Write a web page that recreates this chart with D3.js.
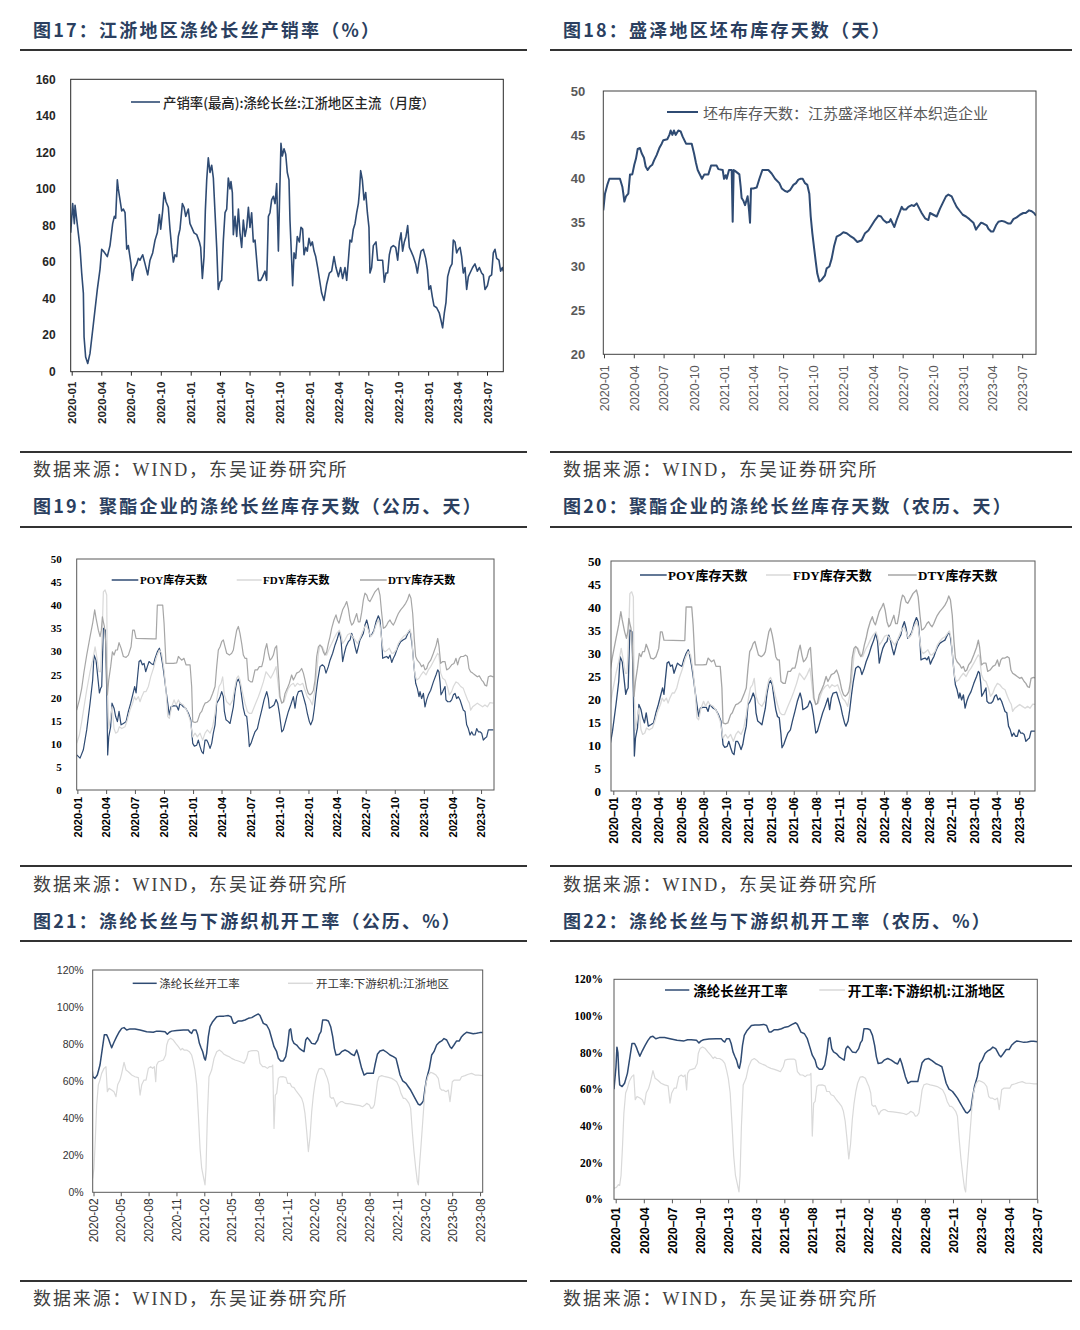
<!DOCTYPE html>
<html>
<head>
<meta charset="utf-8">
<script src="https://cdn.jsdelivr.net/npm/d3@7"></script>
<style>
  body { margin: 0; background: #fff; }
  svg { display: block; }
</style>
</head>
<body>
<svg id="page" width="1080" height="1330"></svg>
<script>
// ---- data: [months since 2020-01-01, value] ----

// 图17 产销率(最高):涤纶长丝:江浙地区主流
var SALES_RATIO = [[-0.1,76],[0.1,92],[0.27,81],[0.34,91],[0.84,68],[1.01,54],[1.18,43],[1.25,19],[1.41,8],[1.62,4.5],[1.85,10],[2.19,26],[2.59,45],[2.86,56],[3.03,67],[3.2,66],[3.6,63],[3.87,69],[4.14,81],[4.31,85],[4.44,84],[4.61,105],[4.71,100],[4.88,94],[5.05,88],[5.22,89],[5.39,87],[5.56,67],[5.72,69],[5.99,59],[6.13,50],[6.3,56],[6.57,59],[6.73,62],[6.9,61],[7.17,64],[7.41,59],[7.68,53],[7.91,61],[8.18,65],[8.42,72],[8.65,76],[8.86,86],[8.99,78],[9.19,88],[9.33,98],[9.53,93],[9.76,90],[9.93,78],[10.1,68],[10.27,60],[10.44,64],[10.61,63],[10.77,74],[10.94,78],[11.18,92],[11.35,90],[11.52,85],[11.78,89],[11.95,81],[12.12,79],[12.36,76],[12.63,75],[12.9,71],[13.03,68],[13.2,51],[13.37,63],[13.5,88],[13.64,105],[13.8,117],[13.97,109],[14.14,113],[14.31,106],[14.48,87],[14.65,68],[14.81,45],[14.98,49],[15.15,50],[15.32,72],[15.49,87],[15.66,89],[15.82,106],[15.99,100],[16.09,104],[16.23,98],[16.33,75],[16.5,85],[16.67,74],[16.84,89],[17,76],[17.17,68],[17.34,83],[17.51,74],[17.68,79],[17.85,90],[18.01,79],[18.18,87],[18.35,71],[18.52,72],[18.69,61],[18.86,50],[19.09,50],[19.29,52],[19.53,55],[19.7,50],[19.87,85],[20.03,87],[20.2,94],[20.37,96],[20.54,92],[20.71,103],[20.88,66],[20.98,90],[21.14,125],[21.28,118],[21.45,122],[21.62,119],[21.78,109],[21.95,105],[22.05,83],[22.22,61],[22.32,47],[22.46,65],[22.63,62],[22.79,74],[23,71],[23.16,79],[23.33,78],[23.47,64],[23.64,68],[23.8,66],[23.97,73],[24.14,69],[24.31,71],[24.48,66],[24.65,63],[24.85,57],[25.02,51],[25.25,43],[25.49,39],[25.76,48],[26.03,54],[26.26,55],[26.5,63],[26.7,57],[26.94,52],[27.17,57],[27.37,51],[27.61,57],[27.78,50],[27.95,61],[28.11,72],[28.28,71],[28.45,78],[28.62,81],[28.79,87],[28.96,92],[29.06,98],[29.19,110],[29.36,105],[29.53,94],[29.7,98],[29.87,87],[30.03,79],[30.13,54],[30.3,57],[30.47,69],[30.74,71],[30.91,61],[31.14,61],[31.41,61],[31.58,49],[31.75,54],[31.92,54],[32.09,64],[32.26,68],[32.49,69],[32.73,68],[32.93,61],[33.1,71],[33.27,76],[33.43,66],[33.6,71],[33.77,74],[33.94,80],[34.11,68],[34.28,66],[34.51,63],[34.75,59],[34.92,54],[35.08,60],[35.29,66],[35.52,67],[35.76,62],[35.93,56],[36.09,45],[36.26,47],[36.43,41],[36.6,36],[36.87,35],[37.14,32],[37.31,28],[37.47,24],[37.64,32],[37.81,38],[37.98,52],[38.22,57],[38.42,59],[38.55,72],[38.72,71],[38.89,65],[39.06,67],[39.23,68],[39.39,63],[39.56,54],[39.73,57],[39.9,45],[40.07,52],[40.24,54],[40.5,57],[40.74,59],[40.98,55],[41.18,57],[41.41,54],[41.58,53],[41.75,45],[41.99,47],[42.19,52],[42.42,53],[42.59,65],[42.76,67],[42.93,62],[43.16,61],[43.33,55],[43.5,57],[43.6,55]];

// 图18 坯布库存天数：江苏盛泽地区样本织造企业
var GREY_CLOTH_DAYS = [[-0.07,36.4],[0.1,38.3],[0.33,39.3],[0.54,40],[1.6,40],[1.84,39.1],[1.94,38.3],[2.04,37.4],[2.21,38],[2.44,38.3],[2.61,40.5],[2.84,40.5],[3.04,41.6],[3.21,42.3],[3.38,43.4],[3.61,43.5],[3.78,42.9],[4.01,42.4],[4.18,41.4],[4.38,41],[4.62,41.4],[4.85,41.6],[5.02,42.1],[5.28,42.7],[5.55,43.5],[5.79,44],[5.95,44.4],[6.35,44.5],[6.56,45],[6.69,45.5],[6.86,45],[7.02,45.5],[7.19,45],[7.46,45.5],[7.69,45.4],[7.89,44.8],[8.06,44.4],[8.23,44],[8.8,44],[9.03,42.9],[9.23,41.8],[9.4,41],[9.57,40.6],[9.83,40],[10.07,40.5],[10.47,40.5],[10.74,41.5],[11.3,41.5],[11.47,41.1],[11.91,41],[12.04,40],[12.21,40.4],[12.31,40],[12.54,41],[12.81,41],[12.91,35.1],[13.01,41],[13.14,40.9],[13.58,40.5],[13.71,39.1],[13.81,37.8],[13.98,37.5],[14.15,37],[14.31,37.6],[14.41,38],[14.55,36.4],[14.65,35],[14.75,38.9],[14.98,38.9],[15.32,39],[15.59,40],[15.89,41],[16.49,41],[16.82,40.6],[17.16,40],[17.59,39.5],[17.83,38.9],[18.16,38.6],[18.39,38.5],[18.66,38.7],[19,39.3],[19.26,39.5],[19.5,39.9],[19.73,40],[19.93,40],[20.17,39.5],[20.4,39.3],[20.6,38.3],[20.74,35.7],[20.9,33.8],[21.1,31.9],[21.24,30.6],[21.4,29.2],[21.61,28.3],[21.84,28.5],[22.17,29],[22.34,29.8],[22.61,30],[22.84,30.9],[23.08,32.3],[23.34,33.4],[23.68,33.6],[24.01,33.9],[24.35,33.8],[24.68,33.5],[25.08,33.2],[25.42,32.8],[25.85,33],[26.19,33.8],[26.52,34.1],[26.86,34.7],[27.19,35.3],[27.53,35.8],[27.79,35.7],[28.03,35.3],[28.36,35],[28.63,35.1],[28.76,35.4],[28.96,34.9],[29.13,34.5],[29.36,35.3],[29.63,36.1],[29.87,36.8],[30.03,36.5],[30.3,36.5],[30.53,36.8],[30.87,37],[31.1,36.9],[31.37,37.2],[31.64,36.6],[31.87,36.1],[32.21,35.5],[32.54,35.3],[32.71,36.1],[33.04,35.9],[33.38,35.7],[33.71,36.6],[34.05,37.4],[34.31,38],[34.55,38.2],[34.88,38],[35.12,37.4],[35.38,36.8],[35.72,36.3],[35.99,35.9],[36.32,35.7],[36.66,35.4],[37.06,35],[37.32,34.2],[37.49,34.5],[37.83,35],[38.06,34.9],[38.39,34.7],[38.56,34.3],[38.83,34],[39.06,34],[39.33,34.7],[39.57,35.1],[39.9,35.2],[40.23,35.1],[40.57,34.9],[40.8,34.9],[41.07,35.4],[41.4,35.6],[41.74,35.9],[42.07,36.1],[42.31,36.1],[42.64,36.4],[42.91,36.3],[43.14,36.1],[43.34,35.8]];

// 图19/图20 POY / FDY / DTY 库存天数
var POY_DAYS = [[-0.07,7.6],[0.28,6.9],[0.62,8.7],[0.97,13],[1.32,18.8],[1.59,23.8],[1.73,29.2],[1.94,28.1],[2.08,25.3],[2.29,21],[2.42,22],[2.53,22.4],[2.7,35],[2.91,34.6],[3.05,21.6],[3.15,7.6],[3.26,11.5],[3.46,13.7],[3.6,18.8],[3.81,17.7],[3.98,15.9],[4.16,14.8],[4.33,17],[4.54,14.1],[4.78,14.4],[5.06,14.8],[5.3,17],[5.54,18.8],[5.75,20.6],[5.96,22.4],[6.1,21],[6.24,24.2],[6.41,27.8],[6.58,28.1],[6.75,27.1],[6.93,27.4],[7.1,25.6],[7.27,26.7],[7.45,27.8],[7.66,27.4],[7.9,27.1],[8.07,28.5],[8.31,29.9],[8.52,30.7],[8.66,29.6],[8.87,27.1],[9.04,24.5],[9.21,21.6],[9.39,18.8],[9.56,16.2],[9.73,18],[9.98,18.2],[10.32,18.2],[10.5,17.3],[10.67,18.8],[11.02,18],[11.26,17.7],[11.54,16.6],[11.78,15.2],[11.99,10.1],[12.16,9.5],[12.4,9.7],[12.57,10.8],[12.75,9.4],[12.92,8.3],[13.09,7.9],[13.27,10.8],[13.44,10.8],[13.61,10.1],[13.79,9],[13.96,10.1],[14.13,12.3],[14.31,14.1],[14.48,18.8],[14.69,19.5],[14.83,20.2],[15,21.3],[15.17,20.2],[15.28,17],[15.45,15.2],[15.69,14.8],[15.87,14.4],[16.04,16.2],[16.21,18],[16.38,21.3],[16.56,23.4],[16.73,24],[16.9,23.1],[17.08,20.2],[17.25,17.7],[17.42,16.2],[17.6,15.9],[17.77,12.3],[17.87,9.4],[18.05,10.1],[18.22,11.2],[18.46,12.6],[18.71,13.3],[18.91,15.2],[19.16,17.3],[19.4,19.5],[19.68,21.3],[19.85,19.8],[19.95,17.7],[20.2,18],[20.44,18.4],[20.65,19.6],[20.82,18.8],[21,16.6],[21.24,12.6],[21.41,13],[21.69,15.2],[21.93,17],[22.17,18.4],[22.45,20.2],[22.62,17.7],[22.79,20.2],[22.97,21.3],[23.31,21.5],[23.49,20.2],[23.73,18.4],[23.9,16.6],[24.11,14.8],[24.25,14.1],[24.46,15.2],[24.63,17.7],[24.8,20.9],[24.98,23.8],[25.22,26.7],[25.46,27.1],[25.67,26.7],[25.84,25.3],[26.08,26.7],[26.26,28.1],[26.53,29.6],[26.78,31.4],[27.02,32.8],[27.23,34.3],[27.4,32.5],[27.57,27.8],[27.75,29.6],[27.92,31],[28.16,32.1],[28.34,32.5],[28.51,33.9],[28.68,32.8],[28.86,31],[29.03,29.6],[29.2,31],[29.37,32.5],[29.55,33.2],[29.72,33.9],[29.89,35.7],[30.07,36.8],[30.24,35.4],[30.41,33.2],[30.59,33.6],[30.83,34.6],[31.04,36.4],[31.28,37.7],[31.45,36.8],[31.63,32.5],[31.73,28.5],[31.9,28.7],[32.15,28.9],[32.32,28.5],[32.49,29.2],[32.67,27.6],[32.84,28.5],[33.01,29.2],[33.19,30.3],[33.36,31.2],[33.6,32.1],[33.88,32.5],[34.12,32.8],[34.29,33.6],[34.5,34.5],[34.64,33.8],[34.81,31],[34.99,26.7],[35.16,23.1],[35.33,22],[35.51,20.2],[35.61,21.3],[35.78,19.8],[35.96,20.9],[36.13,18],[36.3,19.5],[36.48,20.6],[36.72,21.6],[37,23.4],[37.27,24.9],[37.45,26],[37.58,25.6],[37.69,23.4],[37.79,20.6],[37.97,21.3],[38.21,22.4],[38.31,19.5],[38.49,19.1],[38.73,19.1],[38.9,19.5],[39.08,20.6],[39.25,20.9],[39.42,19.8],[39.59,20.2],[39.77,19.5],[39.94,18.4],[40.11,17.3],[40.29,17],[40.46,14.1],[40.63,13.3],[40.81,11.9],[40.98,12.6],[41.15,11.9],[41.33,11.9],[41.5,13.3],[41.67,12.6],[41.84,12.6],[42.02,12.3],[42.19,10.8],[42.36,11.2],[42.54,11.5],[42.71,13],[42.95,13],[43.23,13]];
var FDY_DAYS = [[-0.07,10.1],[0.21,11.9],[0.45,14.8],[0.69,18],[0.97,21.6],[1.32,25.6],[1.59,28.1],[1.84,31],[2.01,28.9],[2.25,25.6],[2.42,25.6],[2.6,35.4],[2.7,42.9],[2.88,43.3],[3.05,42.2],[3.12,22.4],[3.26,13.3],[3.46,15.9],[3.6,18],[3.81,13.3],[3.98,12.3],[4.19,12.6],[4.36,13.7],[4.61,13.3],[4.95,13.7],[5.2,15.2],[5.47,17.3],[5.75,18.8],[5.92,20.2],[6.1,19.5],[6.34,20.2],[6.51,19.1],[6.69,20.2],[6.93,21.3],[7.14,21.3],[7.38,22.4],[7.62,24.5],[7.9,26.3],[8.24,28.9],[8.52,30.3],[8.76,29.6],[9.01,26],[9.21,21.6],[9.39,15.9],[9.56,15.5],[9.8,18],[10.05,19.5],[10.25,18.4],[10.5,19.5],[10.67,18.8],[11.02,18.4],[11.36,17.3],[11.71,15.2],[11.99,11.5],[12.23,12.3],[12.47,11.5],[12.75,12.3],[13.02,10.8],[13.27,12.3],[13.51,13],[13.79,12.3],[14.06,13.7],[14.31,16.6],[14.48,19.5],[14.72,22.4],[14.93,23.1],[15.1,24.5],[15.28,20.6],[15.52,19.1],[15.87,18.4],[16.14,19.5],[16.38,22.4],[16.56,24.2],[16.73,24.7],[16.9,23.8],[17.18,20.9],[17.42,18.8],[17.67,17],[17.87,16.6],[18.12,16.6],[18.46,18.4],[18.81,20.2],[19.05,21.6],[19.33,23.4],[19.61,25.6],[19.85,24.9],[20.09,24.2],[20.37,25.3],[20.65,26.7],[20.78,24.5],[21,20.2],[21.24,18.8],[21.48,19.1],[21.69,20.6],[21.93,22],[22.17,22.7],[22.45,23.1],[22.62,22.4],[22.86,23.1],[23.14,22.7],[23.42,23.1],[23.66,21.6],[23.9,20.2],[24.18,19.5],[24.42,18.4],[24.63,20.9],[24.87,25.3],[25.05,29.6],[25.22,31.2],[25.46,31],[25.74,29.6],[25.91,29.2],[26.19,30.7],[26.43,31.7],[26.67,32.8],[26.95,33.9],[27.23,34.6],[27.4,33.6],[27.57,31.7],[27.82,32.5],[28.09,33.6],[28.34,33.9],[28.61,33.2],[28.86,32.5],[29.1,31.7],[29.37,32.8],[29.65,34.3],[29.89,35.4],[30.07,35.5],[30.24,34.6],[30.48,33.2],[30.76,33.9],[31.04,35.7],[31.28,36.8],[31.45,35.7],[31.63,32.5],[31.8,30.3],[31.97,29.9],[32.22,30.3],[32.42,30.7],[32.67,29.6],[32.84,29.6],[33.12,30.3],[33.36,31.7],[33.6,32.5],[33.88,33.2],[34.16,33.6],[34.4,34.3],[34.57,34.8],[34.74,33.2],[34.92,28.1],[35.09,24.9],[35.26,23.8],[35.51,24.2],[35.71,24.9],[35.96,25.6],[36.23,24.9],[36.48,26],[36.72,26.7],[37,27.8],[37.27,28.9],[37.45,29.6],[37.58,29.2],[37.76,25.3],[37.97,24.2],[38.21,23.8],[38.45,22.4],[38.66,20.6],[38.9,21.3],[39.08,22.4],[39.35,23.4],[39.59,23.1],[39.84,22.4],[40.11,22],[40.35,20.6],[40.56,19.5],[40.74,18.8],[40.87,17.3],[41.08,18],[41.33,18.4],[41.57,18.8],[41.84,18.4],[42.12,18],[42.36,18.4],[42.61,18],[42.88,18.9],[43.23,18.8]];
var DTY_DAYS = [[-0.07,17.3],[0.21,19.5],[0.45,22],[0.69,25.6],[0.97,29.2],[1.32,33.2],[1.59,36.1],[1.8,39],[1.94,37.2],[2.18,34.6],[2.36,33.2],[2.49,34.6],[2.6,37.5],[2.7,36.4],[2.81,35.4],[2.94,32.1],[3.12,20.6],[3.26,23.8],[3.46,26.7],[3.64,29.9],[3.81,29.2],[3.98,30.3],[4.16,30.3],[4.33,31.9],[4.54,30.7],[4.78,28.9],[5.06,28.7],[5.3,29.2],[5.58,31],[5.75,34.6],[5.92,34.6],[6.1,32.8],[7.9,32.7],[8.18,32.7],[8.31,40],[8.87,40],[9.01,36.1],[9.21,27.4],[9.98,27.4],[10.32,27.5],[10.5,28.9],[10.67,28.5],[10.84,28.1],[11.08,28.5],[11.29,27.1],[11.71,27.1],[11.88,22.4],[11.99,14.8],[12.23,14.6],[12.47,14.8],[12.75,16.6],[12.92,17],[13.09,18],[13.27,18.8],[13.51,19],[13.79,19.5],[14.06,20.9],[14.31,22.4],[14.48,26.7],[14.65,30.3],[14.83,31],[15,32.1],[15.17,32.5],[15.35,31],[15.52,29.6],[15.8,29.2],[16.04,29.6],[16.21,30.3],[16.38,32.5],[16.56,34.6],[16.73,35.4],[16.9,33.9],[17.08,31.7],[17.25,29.2],[17.42,28.5],[17.6,28.5],[17.77,23.8],[18.01,23.4],[18.19,23.4],[18.46,26],[18.71,26],[18.91,26.7],[19.16,26.7],[19.33,28.1],[19.5,30.3],[19.68,31.7],[19.85,29.6],[20.02,28.1],[20.2,28.5],[20.37,29.2],[20.54,30.7],[20.71,31.2],[20.89,25.3],[21.06,20.2],[21.24,18.8],[21.41,19.1],[21.58,20.9],[21.82,22],[22.03,23.1],[22.27,24.9],[22.45,23.8],[22.62,24.5],[22.79,25.3],[23.07,25.6],[23.31,26.3],[23.49,25.3],[23.66,23.8],[23.83,22],[24.01,20.9],[24.18,20.6],[24.35,20.9],[24.53,21.6],[24.7,23.8],[24.87,28.9],[25.05,31],[25.22,31.4],[25.39,31],[25.56,29.9],[25.74,29.2],[25.91,29.9],[26.08,31.7],[26.26,33.2],[26.43,35],[26.67,36.8],[26.88,37.9],[27.02,36.8],[27.19,36.1],[27.37,37.5],[27.57,39],[27.82,40],[27.99,40.8],[28.16,39.3],[28.34,36.8],[28.51,35.7],[28.68,36.1],[28.86,37.2],[29.03,38.2],[29.2,36.4],[29.37,36.4],[29.55,38.5],[29.72,41.1],[29.89,42.6],[30.07,42.2],[30.24,41.1],[30.41,40.8],[30.59,41.5],[30.76,42.2],[30.93,42.9],[31.11,43.3],[31.28,43.7],[31.45,42.2],[31.63,38.2],[31.8,35],[31.97,35.2],[32.15,35.7],[32.32,36.4],[32.49,36.8],[32.67,36.1],[32.84,35.7],[33.01,36.4],[33.19,37.4],[33.36,38.2],[33.6,39],[33.88,39.7],[34.12,40.4],[34.33,41.3],[34.5,42.4],[34.67,41.5],[34.85,38.2],[35.02,32.5],[35.16,28.9],[35.33,28.1],[35.61,27.4],[35.78,26.7],[35.96,27.1],[36.13,26],[36.3,26.3],[36.48,27.4],[36.72,28.1],[37,29.6],[37.27,31.2],[37.45,32.8],[37.58,31.2],[37.76,27.4],[37.97,27.8],[38.21,27.8],[38.38,26],[38.62,26.3],[38.9,27.1],[39.14,27.4],[39.35,28.5],[39.52,27.1],[39.7,28.5],[39.87,28.9],[40.11,28.9],[40.35,29.2],[40.53,28.9],[40.7,26.3],[40.87,25.6],[41.08,25.3],[41.33,24.9],[41.57,24.5],[41.77,24.7],[42.02,23.8],[42.19,23.4],[42.36,22.7],[42.54,22.5],[42.71,24.5],[42.95,24.7],[43.23,24.5]];

// 图21/图22 涤纶长丝开工率 / 开工率:下游织机:江浙地区 (%)
var FILAMENT_RATE = [[0.35,60],[0.55,72],[0.65,83],[0.75,80],[0.85,68],[0.93,62.4],[1.18,61.5],[1.43,63.3],[1.72,68.7],[1.98,77.7],[2.19,85],[2.45,85],[2.63,83],[2.81,80.4],[2.99,78],[3.24,81],[3.53,84],[3.82,86.7],[4.08,88.5],[4.33,88.9],[4.62,87.6],[4.98,88.2],[5.52,88.2],[6.07,87.6],[6.79,86.7],[7.51,86.4],[7.87,87],[8.24,87],[8.78,86.7],[9.03,85.3],[9.25,86.4],[9.5,87],[10.05,87.4],[10.77,87.6],[11.31,87.6],[11.49,86.4],[11.67,85.8],[11.85,87.6],[12.14,87.6],[12.32,85],[12.51,80.4],[12.69,78],[12.87,75.9],[13.05,72.3],[13.16,71.4],[13.3,75],[13.48,84],[13.66,89.4],[13.95,92.1],[14.39,94.8],[14.75,95.1],[15.18,95.1],[15.65,95.4],[15.94,94.8],[16.2,91.2],[16.38,91.2],[16.74,92.5],[17.1,92.5],[17.46,93],[17.82,93.9],[18.19,94.3],[18.55,95.4],[18.91,96.3],[19.09,95.4],[19.45,91.2],[19.81,90.3],[20.1,87.6],[20.36,83],[20.61,78.6],[20.9,75.9],[21.08,72.3],[21.33,70.9],[21.62,70.9],[21.88,73.2],[22.09,79.5],[22.27,87.6],[22.42,88.2],[22.6,82.2],[22.78,80.4],[23.07,79.5],[23.36,77.7],[23.61,76.8],[23.87,75.9],[24.05,82.2],[24.23,83.5],[24.45,82.2],[24.7,80.4],[25.06,80],[25.35,82.2],[25.53,85.3],[25.71,86.7],[25.89,93],[26.25,93],[26.51,92.5],[26.76,89.4],[26.98,84],[27.16,77.7],[27.34,74.1],[27.7,74.5],[27.95,75.9],[28.32,76.8],[28.68,75.9],[29.04,74.5],[29.33,73.8],[29.58,76.8],[29.76,74.1],[29.94,70.5],[30.12,66.9],[30.38,63.3],[30.67,64.2],[31.39,64.2],[31.57,68.7],[31.83,74.5],[32.11,76.3],[32.48,76.8],[32.84,75.6],[33.2,74.1],[33.56,73.2],[33.85,72.3],[34.03,68.7],[34.29,63.3],[34.58,60.1],[34.94,58.8],[35.19,57],[35.44,55.2],[35.73,52.5],[36.02,49.8],[36.28,47.5],[36.46,47.1],[36.64,48],[36.82,49.3],[37,56.1],[37.18,61.5],[37.47,66.9],[37.72,74.1],[37.97,75.9],[38.26,79.5],[38.55,81],[38.81,81.7],[39.06,83],[39.35,82.2],[39.71,78.6],[39.89,77.7],[40.14,79.5],[40.43,81.7],[40.72,81.7],[40.97,84],[41.22,85.3],[41.51,86.4],[41.87,86],[42.23,85.6],[42.59,85.8],[42.95,86.2],[43.24,86.2],[43.6,86]];
var LOOM_RATE = [[0.35,6],[0.6,6.5],[0.8,8],[0.93,7.6],[1.07,13],[1.22,29],[1.36,47],[1.54,58],[1.72,60.6],[1.9,64.2],[2.16,66.9],[2.37,67.8],[2.52,54.3],[2.7,56.1],[2.99,55.2],[3.24,54.3],[3.46,51.6],[3.64,58],[3.89,60.6],[4.08,64.2],[4.33,70.2],[4.55,66],[4.8,65.1],[5.16,63.3],[5.52,62.4],[5.88,61.9],[6.07,52.5],[6.25,58],[6.5,60.6],[6.72,60.6],[6.97,66.9],[7.22,67.8],[7.44,66.9],[7.62,67.8],[7.77,59.7],[7.87,68.7],[8.06,70.5],[8.31,70.9],[8.6,71.4],[8.85,74.1],[8.96,79.5],[9.14,82.2],[9.39,83.1],[9.68,82.2],[9.94,80.4],[10.23,78.6],[10.48,76.8],[10.66,77.7],[10.84,76.8],[11.13,76.8],[11.42,75.9],[11.67,74.1],[11.85,70.5],[12.03,66],[12.22,58],[12.4,41.7],[12.58,23.7],[12.76,13],[12.94,8.5],[13.12,4],[13.23,13],[13.37,40],[13.55,62.4],[13.84,66],[14.1,72.3],[14.39,75.9],[14.68,76.8],[14.93,75.9],[15.18,74.5],[15.47,73.8],[15.76,73.2],[16.01,72.3],[16.38,71.4],[16.74,70.9],[17.1,70.2],[17.35,69.6],[17.64,72.3],[17.82,75.9],[18.07,76.3],[18.36,76.5],[18.73,76.5],[18.91,75.9],[19.09,69.6],[19.38,67.8],[19.63,67.8],[19.89,66.9],[20.1,67.8],[20.36,67.8],[20.47,68.7],[20.61,34.5],[20.75,52.5],[20.9,53.4],[21.08,61.5],[21.26,62.3],[21.62,62.4],[21.91,61.9],[22.09,58.8],[22.35,58.8],[22.53,57],[22.78,56.5],[23.07,54.3],[23.36,52.5],[23.61,50.7],[23.79,48],[23.97,42.6],[24.16,32.7],[24.34,22],[24.52,30],[24.7,43.5],[24.88,52.5],[25.06,58.8],[25.24,63.3],[25.49,66.6],[25.78,66.9],[26.04,66],[26.25,63.3],[26.4,61.5],[26.58,58],[26.69,51.6],[26.87,50.7],[27.05,51.1],[27.23,48.9],[27.41,46.2],[27.59,48],[27.85,48.9],[28.06,48.9],[28.32,48],[28.86,47.7],[29.58,47.1],[29.94,46.8],[30.23,46.2],[30.49,47.1],[30.67,48],[30.96,47.1],[31.14,45.3],[31.32,45.6],[31.5,47.1],[31.65,52.5],[31.83,59.7],[32.01,62.4],[32.3,63],[32.66,62.4],[33.02,62],[33.38,61.5],[33.67,60.6],[33.92,59.7],[34.18,57],[34.39,53.4],[34.65,50.7],[34.83,50.7],[35.01,49.8],[35.26,48],[35.44,45.3],[35.62,32.7],[35.8,22],[35.99,13],[36.17,5.8],[36.28,4],[36.38,13],[36.57,25.5],[36.75,38.1],[36.93,50.7],[37.11,58.8],[37.36,63.3],[37.61,64.8],[37.9,64.2],[38.19,63.3],[38.44,61.5],[38.63,56.1],[38.81,55.2],[38.99,55.2],[39.28,54.3],[39.53,55.2],[39.71,48.9],[39.82,53.4],[39.96,59.7],[40.18,60.6],[40.79,60.6],[40.97,62.4],[41.34,63],[41.7,63.7],[42.06,64.2],[42.43,63.3],[42.79,63.3],[43.26,63],[43.6,63]];

// ---- tick labels ----
var QUARTER_TICKS = ["2020-01","2020-04","2020-07","2020-10","2021-01","2021-04","2021-07","2021-10","2022-01","2022-04","2022-07","2022-10","2023-01","2023-04","2023-07"];
var RATE_TICKS = ["2020-02","2020-05","2020-08","2020-11","2021-02","2021-05","2021-08","2021-11","2022-02","2022-05","2022-08","2022-11","2023-02","2023-05","2023-08"];
var LUNAR_TICKS_20 = ["2020-01","2020-03","2020-04","2020-05","2020-08","2020-10","2021-01","2021-03","2021-06","2021-08","2021-11","2022-01","2022-04","2022-06","2022-08","2022-11","2023-01","2023-04","2023-05"];
var LUNAR_TICKS_22 = ["2020-01","2020-04","2020-07","2020-10","2020-13","2021-03","2021-05","2021-08","2021-11","2022-02","2022-05","2022-08","2022-11","2023-02","2023-04","2023-07"];

// ---- texts ----
var TITLES = [
  "图17：江浙地区涤纶长丝产销率（%）",
  "图18：盛泽地区坯布库存天数（天）",
  "图19：聚酯企业的涤纶长丝库存天数（公历、天）",
  "图20：聚酯企业的涤纶长丝库存天数（农历、天）",
  "图21：涤纶长丝与下游织机开工率（公历、%）",
  "图22：涤纶长丝与下游织机开工率（农历、%）"
];
var SOURCE = "数据来源：WIND，东吴证券研究所";
var SALES_NAMES = ["产销率(最高):涤纶长丝:江浙地区主流（月度）"];
var CLOTH_NAMES = ["坯布库存天数：江苏盛泽地区样本织造企业"];
var INVENTORY_NAMES = ["POY库存天数", "FDY库存天数", "DTY库存天数"];
var RATE_NAMES = ["涤纶长丝开工率", "开工率:下游织机:江浙地区"];

// ---- styles ----
var NAVY = "#2f4b73",
    LIGHT_GREY = "#d9d9d9",
    MID_GREY = "#a6a6a6",
    TITLE_COLOR = "#2b3f60",
    SANS = "'Liberation Sans', Arial, 'Noto Sans CJK SC', sans-serif",
    SERIF = "'Liberation Serif', 'Noto Sans CJK SC', serif",
    CJK = "'Noto Sans CJK SC', sans-serif",
    MONTH_MS = 30.4375 * 864e5,
    BASE_MS = new Date(2020, 0, 1).getTime();

var svg = d3.select("#page");
var parseMonth = d3.timeParse("%Y-%m");

function toDate(t) { return new Date(BASE_MS + t * MONTH_MS); }

// page furniture: titles, rules, sources
var COLUMNS = [{x0: 20, x1: 527, tx: 33}, {x0: 550, x1: 1072, tx: 563}];
var TITLE_ROWS = [37, 513, 928];
var TITLE_RULES = [50, 527, 941];
var SOURCE_RULES = [452, 866, 1281];
var SOURCE_ROWS = [476, 891, 1305];

COLUMNS.forEach(function(col, ci){
  TITLE_ROWS.forEach(function(y, ri){
    svg.append("text")
      .attr("x", col.tx).attr("y", y)
      .attr("font-family", CJK).attr("font-weight", 700)
      .attr("font-size", 18).attr("letter-spacing", 2.2)
      .attr("fill", TITLE_COLOR)
      .text(TITLES[ri * 2 + ci]);
  });
  TITLE_RULES.concat(SOURCE_RULES).forEach(function(y){
    svg.append("line")
      .attr("x1", col.x0).attr("x2", col.x1)
      .attr("y1", y).attr("y2", y)
      .attr("stroke", "#333").attr("stroke-width", 2);
  });
  SOURCE_ROWS.forEach(function(y){
    svg.append("text")
      .attr("x", col.tx).attr("y", y)
      .attr("font-family", SERIF).attr("font-size", 18)
      .attr("letter-spacing", 1.9)
      .attr("fill", "#404040")
      .text(SOURCE);
  });
});

// ---- panels ----
var panels = [
  {
    id: 17, frame: [70.7, 79.3, 503.3, 371.7], frameColor: "#262626",
    tDomain: [-0.1, 43.6], ticks: QUARTER_TICKS,
    yDomain: [0, 160], yTicks: d3.range(0, 161, 20), yFormat: d3.format("d"), yPad: 15,
    yFont: {family: SANS, size: 12, weight: 700, fill: "#262626"},
    xFont: {family: SANS, size: 11.5, weight: 700, fill: "#262626"}, xGap: 10,
    series: [{data: SALES_RATIO, color: NAVY, width: 1.6, name: SALES_NAMES[0], lx: [131, 160, 163]}],
    legendY: 102, legendFont: {family: CJK, size: 13.4, weight: 500, fill: "#262626"}
  },
  {
    id: 18, frame: [603.3, 91, 1036, 354.3], frameColor: "#404040",
    tDomain: [-0.07, 43.34], ticks: QUARTER_TICKS,
    yDomain: [20, 50], yTicks: d3.range(20, 51, 5), yFormat: d3.format("d"), yPad: 18,
    yFont: {family: SANS, size: 13, weight: 700, fill: "#595959"},
    xFont: {family: SANS, size: 12.5, weight: 400, fill: "#595959"}, xGap: 11,
    series: [{data: GREY_CLOTH_DAYS, color: NAVY, width: 2, name: CLOTH_NAMES[0], lx: [667, 698, 703]}],
    legendY: 112, legendFont: {family: CJK, size: 15, weight: 400, fill: "#595959"}
  },
  {
    id: 19, frame: [76.7, 559, 494, 790], frameColor: "#595959",
    tDomain: [-0.07, 43.3], ticks: QUARTER_TICKS,
    yDomain: [0, 50], yTicks: d3.range(0, 51, 5), yFormat: d3.format("d"), yPad: 15,
    yFont: {family: SERIF, size: 11, weight: 700, fill: "#000"},
    xFont: {family: SANS, size: 11, weight: 700, fill: "#000"}, xGap: 7,
    series: [
      {data: POY_DAYS, color: NAVY, width: 1.2, name: INVENTORY_NAMES[0], lx: [111.7, 138.3, 140]},
      {data: FDY_DAYS, color: LIGHT_GREY, width: 1.2, name: INVENTORY_NAMES[1], lx: [236.7, 261.7, 263]},
      {data: DTY_DAYS, color: MID_GREY, width: 1.2, name: INVENTORY_NAMES[2], lx: [360, 386.7, 388]}
    ],
    legendY: 580, legendFont: {family: SERIF, size: 11, weight: 700, fill: "#000"}
  },
  {
    id: 20, frame: [611, 561, 1035, 791], frameColor: "#595959", lunar: true,
    tDomain: [0.82, 43.1], ticks: LUNAR_TICKS_20, tickRange: [613.3, 1019.3],
    yDomain: [0, 50], yTicks: d3.range(0, 51, 5), yFormat: d3.format("d"), yPad: 10,
    yFont: {family: SERIF, size: 13, weight: 700, fill: "#000"},
    xFont: {family: SANS, size: 12, weight: 700, fill: "#000"}, xGap: 6,
    series: [
      {data: POY_DAYS, color: NAVY, width: 1.3, name: INVENTORY_NAMES[0], lx: [640, 666.7, 668]},
      {data: FDY_DAYS, color: LIGHT_GREY, width: 1.3, name: INVENTORY_NAMES[1], lx: [766, 790.7, 793]},
      {data: DTY_DAYS, color: MID_GREY, width: 1.3, name: INVENTORY_NAMES[2], lx: [888, 916.7, 918]}
    ],
    legendY: 575, legendFont: {family: SERIF, size: 13, weight: 700, fill: "#000"}
  },
  {
    id: 21, frame: [92.7, 970, 482.7, 1192.3], frameColor: "#595959",
    tDomain: [0.93, 43.26], ticks: RATE_TICKS,
    yDomain: [0, 120], yTicks: d3.range(0, 121, 20), yFormat: function(d){ return d + "%"; }, yPad: 9,
    yFont: {family: SANS, size: 10.5, weight: 400, fill: "#333"},
    xFont: {family: SANS, size: 12, weight: 400, fill: "#333"}, xGap: 6,
    series: [
      {data: FILAMENT_RATE, color: NAVY, width: 1.5, name: RATE_NAMES[0], lx: [132.7, 156.7, 159.3]},
      {data: LOOM_RATE, color: LIGHT_GREY, width: 1.2, name: RATE_NAMES[1], lx: [288, 313, 316]}
    ],
    legendY: 983.3, legendFont: {family: CJK, size: 11.5, weight: 400, fill: "#333"}
  },
  {
    id: 22, frame: [614, 979.3, 1037.3, 1199.3], frameColor: "#595959", lunar: true,
    tDomain: [0.35, 43.6], ticks: LUNAR_TICKS_22, tickRange: [615.7, 1037.3],
    yDomain: [0, 120], yTicks: d3.range(0, 121, 20), yFormat: function(d){ return d + "%"; }, yPad: 11,
    yFont: {family: SERIF, size: 11.5, weight: 700, fill: "#000"},
    xFont: {family: SANS, size: 12, weight: 700, fill: "#000"}, xGap: 8,
    series: [
      {data: FILAMENT_RATE, color: NAVY, width: 1.5, name: RATE_NAMES[0], lx: [665, 689.3, 693.3]},
      {data: LOOM_RATE, color: LIGHT_GREY, width: 1.2, name: RATE_NAMES[1], lx: [819.3, 845, 847.7]}
    ],
    legendY: 990, legendFont: {family: CJK, size: 13.5, weight: 700, fill: "#000"}
  }
];

function styleText(sel, f) {
  sel.attr("font-family", f.family).attr("font-size", f.size)
     .attr("font-weight", f.weight).attr("fill", f.fill);
}

function drawPanel(p) {
  var x0 = p.frame[0], y0 = p.frame[1], x1 = p.frame[2], y1 = p.frame[3];
  var g = svg.append("g").attr("class", "panel-" + p.id);
  var clipId = "clip-" + p.id;

  svg.append("clipPath").attr("id", clipId)
    .append("rect").attr("x", x0).attr("y", y0)
    .attr("width", x1 - x0).attr("height", y1 - y0);

  var y = d3.scaleLinear().domain(p.yDomain).range([y1, y0]);
  var x, xPos, xAxis;
  if (p.lunar) {
    x = d3.scaleLinear().domain(p.tDomain).range([x0, x1]);
    xPos = function(t){ return x(t); };
    var labelScale = d3.scalePoint().domain(p.ticks).range(p.tickRange);
    xAxis = d3.axisBottom(labelScale)
      .tickFormat(function(d){ return d.replace("-", "\u2013"); });
  } else {
    x = d3.scaleTime().domain(p.tDomain.map(toDate)).range([x0, x1]);
    xPos = function(t){ return x(toDate(t)); };
    xAxis = d3.axisBottom(x)
      .tickValues(p.ticks.map(parseMonth))
      .tickFormat(d3.timeFormat("%Y-%m"));
  }
  xAxis.tickSizeInner(4).tickSizeOuter(0);

  // y axis
  var yg = g.append("g")
    .attr("transform", "translate(" + x0 + ",0)")
    .call(d3.axisLeft(y).tickValues(p.yTicks).tickSize(0).tickPadding(p.yPad).tickFormat(p.yFormat));
  yg.select(".domain").remove();
  styleText(yg.selectAll("text"), p.yFont);

  // x axis with vertical labels
  var xg = g.append("g")
    .attr("transform", "translate(0," + y1 + ")")
    .call(xAxis);
  xg.select(".domain").remove();
  xg.selectAll(".tick line").attr("stroke", p.frameColor);
  var xt = xg.selectAll("text")
    .attr("x", -p.xGap).attr("y", 0).attr("dy", "0.35em")
    .attr("transform", "rotate(-90)")
    .attr("text-anchor", "end");
  styleText(xt, p.xFont);

  // series
  var line = d3.line()
    .x(function(d){ return xPos(d[0]); })
    .y(function(d){ return y(d[1]); });
  p.series.forEach(function(s){
    g.append("path")
      .attr("clip-path", "url(#" + clipId + ")")
      .attr("d", line(s.data))
      .attr("fill", "none")
      .attr("stroke", s.color)
      .attr("stroke-width", s.width)
      .attr("stroke-linejoin", "round");
  });

  // frame
  g.append("rect")
    .attr("x", x0).attr("y", y0)
    .attr("width", x1 - x0).attr("height", y1 - y0)
    .attr("fill", "none").attr("stroke", p.frameColor).attr("stroke-width", 1);

  // legend
  p.series.forEach(function(s){
    g.append("line")
      .attr("x1", s.lx[0]).attr("x2", s.lx[1])
      .attr("y1", p.legendY).attr("y2", p.legendY)
      .attr("stroke", s.color).attr("stroke-width", Math.max(1.5, s.width));
    var t = g.append("text")
      .attr("x", s.lx[2]).attr("y", p.legendY)
      .attr("dominant-baseline", "central")
      .text(s.name);
    styleText(t, p.legendFont);
  });
}

panels.forEach(drawPanel);
</script>
</body>
</html>
